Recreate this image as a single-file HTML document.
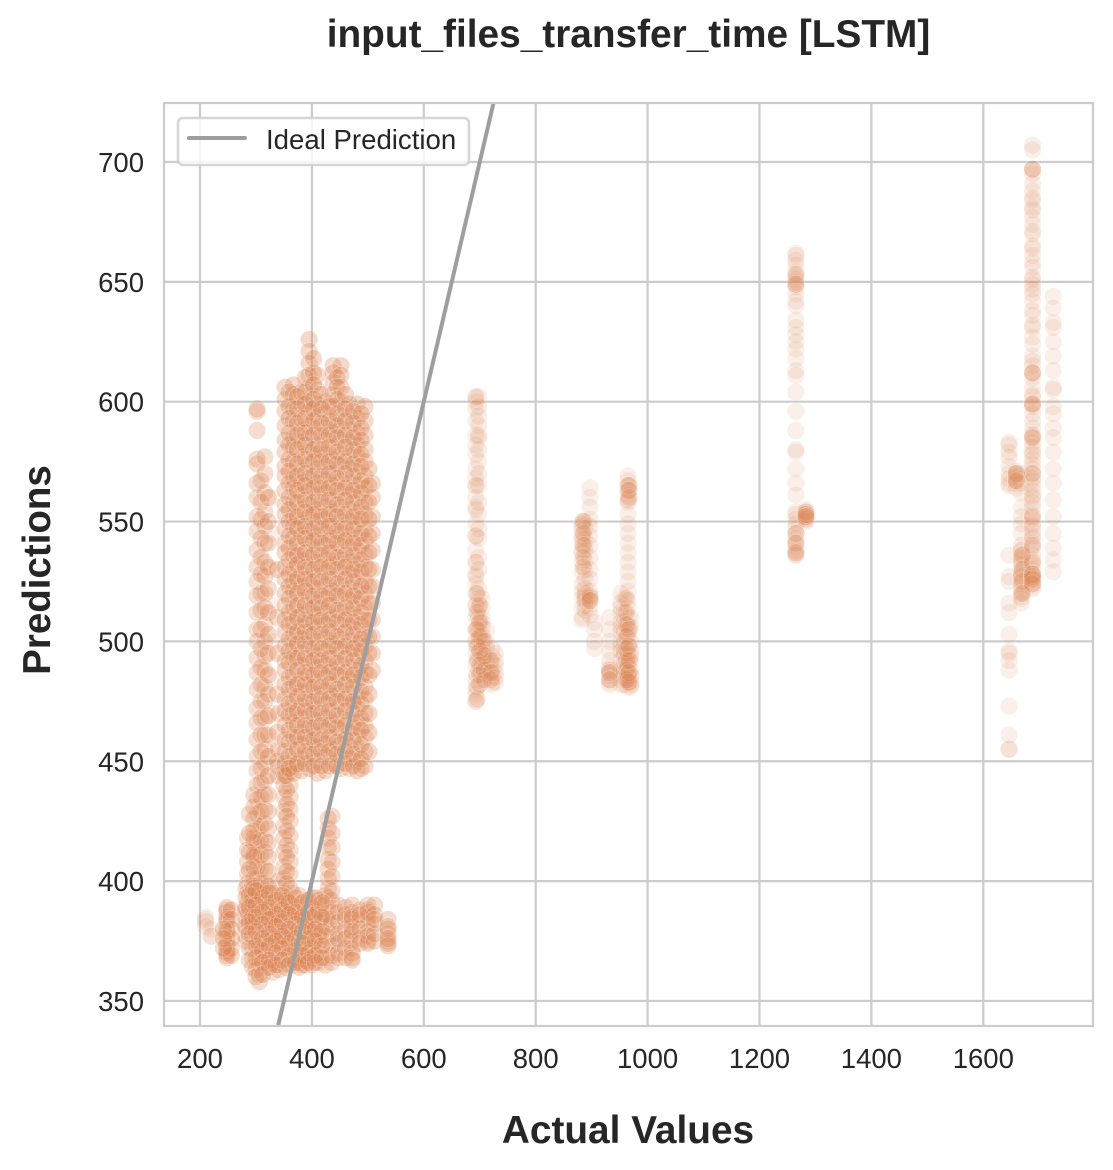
<!DOCTYPE html>
<html lang="en">
<head>
<meta charset="utf-8">
<title>input_files_transfer_time [LSTM]</title>
<style>
html,body{margin:0;padding:0;background:#fff;width:1113px;height:1170px;overflow:hidden}
svg{display:block}
text{font-family:"Liberation Sans",Arial,sans-serif;fill:#262626}
</style>
</head>
<body>
<svg id="chart" xmlns="http://www.w3.org/2000/svg" width="1113" height="1170" viewBox="0 0 1113 1170"></svg>
<script>
const xTicks = [200, 400, 600, 800, 1000, 1200, 1400, 1600];
const yTicks = [350, 400, 450, 500, 550, 600, 650, 700];
const idealLine = [300, 800];

/* Heavily overplotted region: actual value of each column and its predictions */
const denseActual = [352, 367, 381, 395, 410, 424, 438, 452, 467, 481, 495, 508, 359, 374, 388, 403, 417, 431, 445, 460, 474, 488, 502];
const densePredictions = [
 [606,601,596,590,584,579,573,569,563,557,553,547,541,537,531,526,520,515,509,504,498,492,488,482,476,471,465,459,454,449,444],
 [607,603,597,592,585,581,575,568,564,558,552,548,543,536,530,525,521,514,508,503,497,493,486,481,475,470,466,460,453,448,445],
 [604,599,593,588,583,577,571,566,561,555,549,544,538,534,528,523,517,511,506,501,495,490,484,479,473,468,462,457,451,446],
 [626,621,616,611,606,600,596,590,585,579,574,568,563,557,552,546,541,535,530,524,519,513,508,502,497,491,486,480,475,469,464,458,453,447],
 [611,605,599,594,589,582,578,572,566,561,555,550,544,539,533,527,522,516,511,506,500,494,489,483,478,472,467,461,456,450,445],
 [600,595,589,584,578,573,567,562,556,551,545,540,534,529,523,518,512,507,501,496,490,485,479,474,468,463,457,452,446],
 [615,612,608,603,598,592,587,581,576,570,565,559,554,548,543,537,532,526,521,515,510,504,499,493,488,482,477,471,466,460,455,449],
 [615,611,606,600,594,589,584,578,573,567,562,556,550,545,540,534,529,523,518,512,507,501,496,490,485,479,474,468,463,457,452,447],
 [599,594,588,583,577,572,566,561,555,550,544,539,533,528,522,517,511,506,500,495,489,484,478,473,467,462,456,451,447],
 [599,593,587,582,577,571,565,560,554,549,543,538,532,527,521,516,510,505,499,494,488,483,477,472,466,461,455,450,446],
 [598,592,586,580,575,569,564,558,553,547,542,536,531,525,520,514,509,503,498,492,487,481,476,470,465,460,454,448],
 [566,560,552,545,538,530,523,516,509,502,495,488],
 [604,598,593,587,582,576,571,566,560,555,550,544,539,534,528,523,518,512,507,501,496,491,485,480,474,469,463,458,452,447],
 [602,597,591,586,580,574,569,563,558,552,547,541,536,532,526,520,515,510,504,499,493,488,482,477,471,465,460,455,449],
 [610,604,599,593,587,582,576,570,565,559,554,548,543,537,531,526,521,515,509,504,499,493,487,482,476,471,465,460,454,449],
 [618,612,607,601,597,592,586,580,575,569,564,558,553,547,542,536,530,525,519,514,508,503,497,492,486,481,475,470,464,459,453,448],
 [603,597,591,586,580,575,569,564,558,552,547,541,536,531,525,519,514,509,503,497,492,487,481,476,470,465,459,454,448],
 [598,592,586,581,575,570,564,559,553,548,542,537,531,526,520,515,509,504,498,493,487,482,476,471,465,460,454,448],
 [610,606,601,595,590,585,579,574,568,563,557,552,546,541,535,530,524,519,513,508,502,497,491,486,480,475,469,464,458,453,448],
 [603,597,592,586,581,575,570,564,559,553,547,542,536,531,526,520,514,509,504,498,493,487,482,476,471,465,459,454,449],
 [596,591,585,580,574,569,563,558,552,547,541,536,530,525,519,514,508,503,497,492,486,481,475,470,464,459,453,448],
 [595,589,584,578,573,567,562,556,551,545,540,534,529,523,518,512,507,501,496,490,485,479,474,468,463,457,451,447],
 [572,565,558,551,544,537,530,523,516,509,502,495,486,478,470,462,454]
];

/* Columns on the left and the bottom band, medium density */
const lowerActual = [285, 302, 316, 340, 350, 361, 429, 248, 282, 294, 306, 318, 330, 341, 353, 365, 377, 388, 400, 412, 424, 435, 447, 460, 472, 486, 500, 512, 536, 296, 309, 322, 338, 355, 436, 256, 242, 288, 300, 312, 324, 336, 347, 359, 371, 383, 394, 406, 418];
const lowerPredictions = [
 [418,413,408,403,399,395,391,387,383],
 [597,596,588,576,574,566,560,552,546,538,531,525,519,512,505,500,493,487,480,472,466,459,452,446,440,434,428,422,416,411,406,401,396],
 [577,570,562,554,548,541,533,527,520,514,507,500,494,488,481,475,468,461,455,449,442,436,430,424,417,412,405,399,395],
 [470,455,448,444,400],
 [445,440,435,429,423,418,412,406,401,395],
 [446,440,435,430,425,419,413,408,403,397],
 [426,422,418,414,409,405,401,397,393],
 [389,387,385,383,380,378,376,374,371,369,368,388,384,379,373,370],
 [397,393,389,385,381,377,375,388,381],
 [398,394,390,385,381,377,372,368,364,392,383],
 [395,391,388,384,380,376,372,368,365,361,358,386,374],
 [396,392,388,384,379,375,371,367,364,389,381],
 [395,391,386,382,378,374,370,366,362,385,376],
 [394,390,386,381,377,373,369,365,363,383,375],
 [393,389,385,381,376,372,368,364,387,379],
 [395,390,385,380,376,371,367,365,388,378],
 [394,389,384,380,375,370,366,364,386],
 [392,388,384,379,375,371,367,365,382,372],
 [393,389,385,380,376,372,368,365,383],
 [392,387,383,379,374,370,366,388,377],
 [394,390,385,381,377,373,368,365,386],
 [392,387,382,378,373,369,366,384],
 [390,387,383,378,374,370,368,376],
 [389,384,380,376,372,368,386],
 [390,387,384,381,378,375,372,370,368,367,385,379],
 [388,384,380,376,374,386],
 [390,388,385,382,379,377,375,374,387],
 [390,386,382,378,375,384],
 [384,381,378,375,374,373,380,376],
 [436,431,426,421,416,411,406,401,397,418,410],
 [567,558,551,543,535,528,520,513,505,497,489,482,475,468,461,454,447,441,435,429,423,417,411,405,399],
 [560,550,541,531,522,512,503,495,486,478,469,461,452,444,436,429,422,416,410,404,398],
 [530,510,495,478,462,450],
 [444,438,432,427,421,415,410,404,399,392],
 [427,420,414,408,402,396],
 [388,384,380,376,372,369],
 [380,376,372],
 [394,389,383,378,372,367,428,420,412,405],
 [396,390,385,379,373,368,363,360],
 [393,387,382,376,371,366,361],
 [395,389,384,378,373,367,364],
 [392,386,381,375,370,365],
 [394,388,383,377,372,367],
 [391,386,380,374,369,365],
 [393,387,382,376,371,366],
 [391,385,379,374,369,365],
 [392,387,381,376,370,366],
 [393,386,380,375,369,366],
 [391,385,379,373,368]
];

/* Faint, separated clusters */
const sparseActual = [210, 220, 693, 698, 704, 712, 722, 728, 883, 888, 897, 905, 932, 952, 958, 965, 970, 1265, 1283, 1646, 1659, 1668, 1688, 1725, 328];
const sparsePredictions = [
 [385,384,383,381],
 [380,377,377],
 [602,602,600,597,592,586,582,578,572,568,565,565,560,556,555,549,544,544,538,533,533,528,527,524,520,515,515,510,505,505,500,500,495,490,484,480,478,475,475],
 [602,598,594,590,586,585,580,575,570,565,558,553,547,543,535,530,522,518,514,510,507,504,501,498,495,492,488],
 [518,514,510,506,503,500,497,495,491,487,484,502,508,493],
 [505,500,497,494,491,488,486],
 [497,494,491,488,487,485,483,482],
 [495,492,490,487,485,483],
 [550,549,548,544,541,537,533,529,524,521,518,514,510,509,546,543,538],
 [550,547,543,540,538,534,530,526,522,519,517,515,513,520,518],
 [564,560,556,551,548,544,540,535,530,526,521,518,514,518,517,511],
 [508,505,500,497],
 [510,505,500,496,492,489,486,483,482,488,488,487,484],
 [520,516,512,508,504,500,496,492,488,484,482,514,506,498],
 [518,512,508,504,500,497,494,491,488,485,482,495,487],
 [569,567,565,565,563,563,561,559,559,558,553,549,545,541,537,533,529,525,521,517,514,510,506,502,498,494,490,486,483,481,507,503,495,492,489,486,484],
 [510,506,500,496,492,488,485,483,481,494,486,482],
 [662,661,659,657,654,652,651,650,649,648,645,642,640,634,631,628,625,622,618,613,611,604,596,588,580,579,572,566,561,554,553,551,549,547,545,543,541,540,538,537,536,536],
 [555,554,553,553,552,552,551,551,550],
 [583,582,579,577,573,570,568,566,565,536,527,525,516,512,503,496,495,492,488,473,461,455,455],
 [570,570,569,568,567,566,564,571],
 [570,566,562,556,552,549,545,540,538,536,534,532,530,528,527,525,523,521,519,518,516,538,533,529,524,520,535,527],
 [707,705,697,697,695,691,688,685,684,681,680,677,671,670,665,664,658,656,652,651,647,645,642,636,632,631,627,619,617,612,612,610,606,603,599,599,598,595,589,586,586,585,583,581,578,576,574,572,570,567,565,563,561,558,556,553,551,548,546,543,541,539,536,534,532,530,528,528,528,527,526,525,524,523,522,674,661,649,638,624,615,602,592,579,568,560,549,544],
 [644,639,633,631,625,619,613,606,605,598,595,589,585,579,572,566,559,552,545,539,534,529],
 [560,545,530,515,500,485,470,455]
];

/* Darker spots inside the separated clusters */
const accentActual = [695, 700, 708, 720, 885, 897, 932, 962, 967, 1265, 1283, 1659, 1670, 1688];
const accentPredictions = [
 [520,512,505,498,492,486,481,476],
 [515,508,502,496,490,486,482],
 [500,494,488,484],
 [492,487,484],
 [550,545,540,535,531],
 [519,517],
 [487,484],
 [518,512,507,502,497,492,488,484],
 [565,563,560,505,498,492,487,483],
 [653,649,545,541,537],
 [554,553,552],
 [570,567],
 [536,530,525,520],
 [697,612,599,585,570,552,540,533,528,527,526,524]
];

const W = 1113, H = 1170;
const axisLeft = 164, axisRight = 1093, axisTop = 103, axisBottom = 1026;
const xPerUnit = 0.5595, yPerUnit = 2.397;
const xScale = function (v) { return 200 + (v - 200) * xPerUnit; };
const yScale = function (v) { return 162 + (700 - v) * yPerUnit; };
const NS = 'http://www.w3.org/2000/svg';
const svg = document.getElementById('chart');

function make(tag, attrs, parent) {
  const el = document.createElementNS(NS, tag);
  for (const k in attrs) el.setAttribute(k, attrs[k]);
  parent.appendChild(el);
  return el;
}

const defs = make('defs', {}, svg);
const clip = make('clipPath', {id: 'plot-clip'}, defs);
make('rect', {x: axisLeft, y: axisTop, width: axisRight - axisLeft, height: axisBottom - axisTop}, clip);

const gridGroup = make('g', {stroke: '#cccccc', 'stroke-width': 2.2}, svg);


const tickGroup = make('g', {'font-size': 27.5}, svg);



xTicks.forEach(function (t) {
  const line = make('line', {x1: xScale(t), x2: xScale(t), y1: axisTop, y2: axisBottom}, gridGroup);
  
  
  const label = make('text', {x: xScale(t), y: 1068, 'text-anchor': 'middle'}, tickGroup);
  
  
  label.textContent = t;
});
yTicks.forEach(function (t) {
  const line = make('line', {x1: axisLeft, x2: axisRight, y1: yScale(t), y2: yScale(t)}, gridGroup);
  
  
  const label = make('text', {x: 144, y: yScale(t) + 10, 'text-anchor': 'end'}, tickGroup);
  
  
  label.textContent = t;
});

const pointGroup = make('g', {'clip-path': 'url(#plot-clip)'}, svg);



function drawColumns(actuals, predictions, alpha) {
  actuals.forEach(function (a, i) {
    predictions[i].forEach(function (p) {
      const c = make('circle', {cx: xScale(a), cy: yScale(p), r: 9, fill: '#dd8452', stroke: '#ffffff', 'stroke-width': 0.8, opacity: alpha}, pointGroup);
      
      
    });
  });
}
drawColumns(sparseActual, sparsePredictions, 0.12);
drawColumns(accentActual, accentPredictions, 0.2);
drawColumns(lowerActual, lowerPredictions, 0.27);
drawColumns(denseActual, densePredictions, 0.29);

const ideal = make('line', {
  x1: xScale(idealLine[0]), y1: yScale(idealLine[0]),
  x2: xScale(idealLine[1]), y2: yScale(idealLine[1]),
  stroke: '#9e9e9e', 'stroke-width': 4, 'clip-path': 'url(#plot-clip)'
}, svg);



const frame = make('rect', {x: axisLeft, y: axisTop, width: axisRight - axisLeft, height: axisBottom - axisTop, fill: 'none', stroke: '#cccccc', 'stroke-width': 2.2}, svg);



const legend = make('g', {}, svg);


const legendBox = make('rect', {x: 178, y: 118, width: 291, height: 47, rx: 5, fill: '#ffffff', 'fill-opacity': 0.8, stroke: '#cccccc', 'stroke-opacity': 0.8, 'stroke-width': 2.6}, legend);


const legendLine = make('line', {x1: 189, x2: 245, y1: 138, y2: 138, stroke: '#9e9e9e', 'stroke-width': 4, 'stroke-linecap': 'round'}, legend);


const legendText = make('text', {x: 266, y: 149, 'font-size': 27.6}, legend);


legendText.textContent = 'Ideal Prediction';

const title = make('text', {x: 628.5, y: 47, 'font-size': 38.8, 'font-weight': 700, 'text-anchor': 'middle'}, svg);


title.textContent = 'input_files_transfer_time [LSTM]';

const xTitle = make('text', {x: 628, y: 1143, 'font-size': 38.8, 'font-weight': 700, 'text-anchor': 'middle'}, svg);


xTitle.textContent = 'Actual Values';

const yTitle = make('text', {x: 0, y: 0, 'font-size': 38.5, 'font-weight': 700, 'text-anchor': 'middle', transform: 'translate(50,570) rotate(-90)'}, svg);


yTitle.textContent = 'Predictions';
</script>
</body>
</html>
